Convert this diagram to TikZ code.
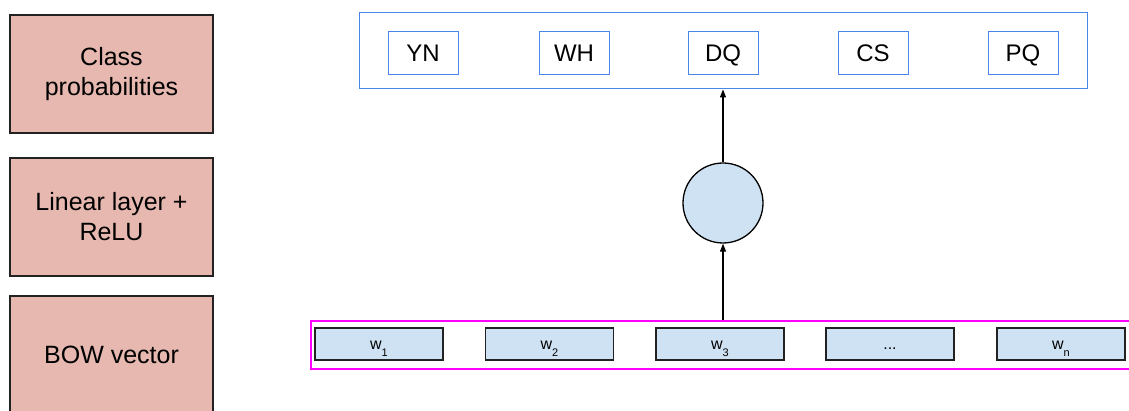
\documentclass[tikz,border=0pt]{standalone}
\usepackage{fontspec}
\setmainfont{Liberation Sans}
\usetikzlibrary{arrows.meta}
\definecolor{berry}{HTML}{E6B8AF}
\definecolor{paleblue}{HTML}{CFE2F3}
\definecolor{brightblue}{HTML}{4A86E8}
\definecolor{edge}{HTML}{222222}
\definecolor{pinkline}{HTML}{FF00FF}
\tikzset{
  stagebox/.style={draw=edge, line width=1.4pt, fill=berry, minimum width=203pt,
    minimum height=118pt, align=center, inner sep=0pt,
    font=\fontsize{25}{30}\selectfont},
  classbox/.style={draw=brightblue, line width=1pt, fill=white, minimum width=70pt,
    minimum height=43pt, inner sep=0pt, text height=17pt, text depth=0pt,
    font=\fontsize{24}{28}\selectfont},
  wordbox/.style={draw=edge, line width=1.2pt, fill=paleblue, minimum width=128pt,
    minimum height=32pt, inner sep=0pt, text height=13pt, text depth=3pt,
    font=\fontsize{16}{18}\selectfont},
  unit/.style={circle, draw=black, line width=1.3pt, fill=paleblue,
    minimum size=80pt, inner sep=0pt},
  flow/.style={-{Triangle[length=8pt,width=6pt]}, line width=1.1pt, black}
}
\newcommand{\wsub}[1]{w\raisebox{-7pt}{\fontsize{11}{12}\selectfont #1}}
\begin{document}
\begin{tikzpicture}[x=1pt,y=-1pt]
\clip (0,0) rectangle (1129,411);
\fill[white] (0,0) rectangle (1129,411);

% stage labels on the left
\node[stagebox] (sprob) at (111.5,74) {Class\\probabilities};
\node[stagebox] (slin) at (111.5,217) {Linear layer +\\ReLU};
\node[stagebox] (sbow) at (111.5,355) {BOW vector};

% output classes
\node[draw=brightblue, line width=1pt, minimum width=728pt, minimum height=76pt,
  inner sep=0pt] (out) at (723,51) {};
\node[classbox] (yn) at (423,53.5) {YN};
\node[classbox] (wh) at (574,53.5) {WH};
\node[classbox] (dq) at (723,53.5) {DQ};
\node[classbox] (cs) at (873,53.5) {CS};
\node[classbox] (pq) at (1023,53.5) {PQ};

% hidden unit
\node[unit] (h) at (723,203) {};

% input bag of words
\node[draw=pinkline, line width=1.8pt, minimum width=840pt, minimum height=48pt,
  inner sep=0pt] (bow) at (731,345) {};
\node[wordbox] (w1) at (379,344) {\wsub{1}};
\node[wordbox] (w2) at (549.5,344) {\wsub{2}};
\node[wordbox] (w3) at (720,344) {\wsub{3}};
\node[wordbox] (wd) at (890,344) {...};
\node[wordbox] (wn) at (1061,344) {\wsub{n}};

% connections
\draw[flow] (bow.north -| h) -- (h.south);
\draw[flow] (h.north) -- (out.south -| h);
\end{tikzpicture}
\end{document}
